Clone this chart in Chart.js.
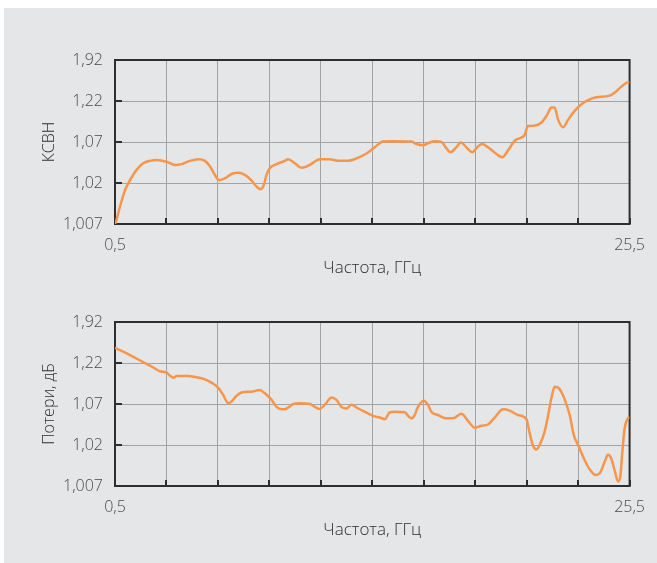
<!DOCTYPE html>
<html>
<head>
<meta charset="utf-8">
<script src="https://cdn.jsdelivr.net/npm/chart.js@4.4.1/dist/chart.umd.min.js"></script>
<style>
  html, body { margin: 0; padding: 0; background: #ffffff; }
  #panel { position: absolute; left: 4px; top: 8px; width: 653px; height: 555px; background: #e5e6e8; }
  .box { position: absolute; left: 0; width: 657px; height: 290px; }
  #box1 { top: 0; }
  #box2 { top: 262px; }
</style>
</head>
<body>
<div id="panel"></div>
<div class="box" id="box1"><canvas id="c1" width="657" height="290"></canvas></div>
<div class="box" id="box2"><canvas id="c2" width="657" height="290"></canvas></div>
<script>
// Vertical axis: five evenly spaced levels, each labelled with its value
const yTickLabels = ['1,007', '1,02', '1,07', '1,22', '1,92'];
// Horizontal axis: frequency, GHz
const xMin = 0.5;
const xMax = 25.5;
const xStep = 2.5;
const xTickLabels = ['0,5', '25,5'];
const xTitle = 'Частота, ГГц';

// VSWR (КСВН) curve, level on the axis above
const vswrFreq = [0.5, 0.55, 0.74, 0.99, 1.23, 1.55, 1.87, 2.2, 2.52, 3.0, 3.41, 3.74, 4.14, 4.54, 4.87,
  5.11, 5.35, 5.56, 5.84, 6.16, 6.49, 6.81, 7.14, 7.38, 7.57, 7.73, 7.86, 8.02, 8.35, 8.75, 8.91,
  9.24, 9.56, 9.97, 10.45, 10.94, 11.34, 11.83, 12.23, 12.72, 13.12, 13.52, 14.0, 14.9, 15.14,
  15.47, 15.71, 16.03, 16.36, 16.57, 16.8, 17.08, 17.3, 17.57, 17.86, 18.09, 18.33, 18.62, 18.95,
  19.32, 19.59, 19.92, 20.24, 20.4, 20.56, 20.89, 21.21, 21.49, 21.7, 21.86, 22.03, 22.27, 22.51,
  22.83, 23.16, 23.56, 23.88, 24.53, 24.77, 25.1, 25.37, 25.5];
const vswrLevel = [0.0, 0.06, 0.42, 0.83, 1.07, 1.32, 1.48, 1.54, 1.56, 1.52, 1.44, 1.46, 1.54, 1.58, 1.54,
  1.41, 1.20, 1.07, 1.11, 1.22, 1.25, 1.20, 1.06, 0.91, 0.85, 0.95, 1.20, 1.36, 1.46, 1.54, 1.58,
  1.48, 1.37, 1.44, 1.58, 1.58, 1.54, 1.54, 1.60, 1.72, 1.87, 2.01, 2.02, 2.01, 1.95,
  1.92, 1.97, 2.02, 2.0, 1.87, 1.75, 1.87, 1.99, 1.87, 1.75, 1.87, 1.95, 1.87, 1.74,
  1.63, 1.79, 2.03, 2.11, 2.17, 2.39, 2.40, 2.47, 2.66, 2.84, 2.84, 2.54, 2.36, 2.54,
  2.76, 2.92, 3.04, 3.09, 3.13, 3.20, 3.35, 3.45, 3.46];

// Insertion loss (Потери, дБ) curve
const lossFreq = [0.5, 0.9, 1.39, 1.87, 2.36, 2.68, 3.0, 3.17, 3.33, 3.49, 3.98, 4.47, 4.87, 5.19, 5.51,
  5.76, 6.0, 6.16, 6.41, 6.65, 7.14, 7.54, 7.78, 8.11, 8.35, 8.59, 8.75, 9.16, 9.48, 9.97, 10.21,
  10.45, 10.69, 11.02, 11.26, 11.5, 11.75, 11.99, 12.31, 12.72, 13.04, 13.36, 13.61, 13.85, 14.09,
  14.58, 14.74, 14.9, 15.06, 15.22, 15.5, 15.71, 15.87, 16.2, 16.6, 16.92, 17.33, 17.65, 17.98,
  18.3, 18.62, 18.95, 19.35, 19.67, 20.08, 20.49, 20.65, 20.81, 20.97, 21.13, 21.37, 21.53, 21.7,
  21.86, 22.07, 22.35, 22.59, 22.79, 23.0, 23.32, 23.56, 23.85, 24.05, 24.29, 24.45, 24.61, 24.77,
  24.94, 25.05, 25.15, 25.26, 25.42, 25.5];
const lossLevel = [3.37, 3.28, 3.15, 3.02, 2.89, 2.80, 2.77, 2.69, 2.64, 2.68, 2.68, 2.65, 2.60, 2.52, 2.40,
  2.22, 2.02, 2.06, 2.20, 2.28, 2.30, 2.34, 2.26, 2.10, 1.93, 1.87, 1.87, 2.0, 2.02, 2.0, 1.93,
  1.88, 1.98, 2.16, 2.10, 1.93, 1.89, 1.98, 1.89, 1.79, 1.71, 1.67, 1.63, 1.80, 1.81,
  1.80, 1.71, 1.65, 1.73, 1.93, 2.08, 1.98, 1.81, 1.73, 1.65, 1.65, 1.76, 1.59, 1.42,
  1.47, 1.50, 1.67, 1.87, 1.84, 1.73, 1.63, 1.28, 0.98, 0.89, 1.0, 1.32, 1.69, 2.14,
  2.42, 2.38, 2.11, 1.73, 1.24, 1.0, 0.63, 0.41, 0.27, 0.31, 0.59, 0.76, 0.67, 0.39,
  0.11, 0.23, 0.84, 1.41, 1.65, 1.68];

const FONT = '"Open Sans", "DejaVu Sans", sans-serif';
const LINE_COLOR = '#f7964a';
const GRID_COLOR = '#a2a3a5';
const FRAME_COLOR = '#2e2e2e';

// Dark frame round the plot plus short inward tick marks
const framePlugin = {
  id: 'frame',
  beforeDatasetsDraw(chart) {
    const { ctx, chartArea: a, scales: { x, y } } = chart;
    ctx.save();
    ctx.strokeStyle = FRAME_COLOR;
    ctx.lineWidth = 2;
    ctx.beginPath();
    x.ticks.forEach(t => {
      const px = Math.round(x.getPixelForValue(t.value));
      ctx.moveTo(px, a.bottom);
      ctx.lineTo(px, a.bottom - 6);
    });
    y.ticks.forEach(t => {
      const py = Math.round(y.getPixelForValue(t.value));
      ctx.moveTo(a.left, py);
      ctx.lineTo(a.left + 7, py);
    });
    ctx.stroke();
    ctx.strokeRect(a.left, a.top, a.right - a.left, a.bottom - a.top);
    ctx.restore();
  }
};

function makeChart(id, freq, level, yTitle) {
  const points = freq.map((f, i) => ({ x: f, y: level[i] }));
  return new Chart(document.getElementById(id), {
    type: 'line',
    data: {
      datasets: [{
        data: points,
        borderColor: LINE_COLOR,
        borderWidth: 2.5,
        pointRadius: 0,
        fill: false,
        cubicInterpolationMode: 'monotone'
      }]
    },
    options: {
      responsive: false,
      animation: false,
      events: [],
      layout: { padding: { left: 0, right: 27, top: 60, bottom: 0 } },
      plugins: { legend: { display: false }, tooltip: { enabled: false } },
      scales: {
        x: {
          type: 'linear',
          min: xMin,
          max: xMax,
          afterFit: s => { s.height = 66; },
          border: { display: false },
          grid: { color: GRID_COLOR, lineWidth: 1, drawTicks: false },
          ticks: {
            stepSize: xStep,
            autoSkip: false,
            maxRotation: 0,
            padding: 12,
            color: '#4a4a4a',
            font: { family: FONT, size: 16, weight: 300 },
            callback: (v, i, ticks) => i === 0 ? xTickLabels[0] : (i === ticks.length - 1 ? xTickLabels[1] : '')
          },
          title: {
            display: true,
            text: xTitle,
            color: '#2e2e2e',
            font: { family: FONT, size: 17, weight: 300 },
            padding: { top: 0, bottom: 12 }
          }
        },
        y: {
          type: 'linear',
          min: 0,
          max: yTickLabels.length - 1,
          afterFit: s => { s.width = 115; },
          border: { display: false },
          grid: { color: GRID_COLOR, lineWidth: 1, drawTicks: false },
          ticks: {
            stepSize: 1,
            padding: 12,
            color: '#4a4a4a',
            font: { family: FONT, size: 16, weight: 300 },
            callback: v => yTickLabels[v]
          },
          title: {
            display: true,
            text: yTitle,
            color: '#2e2e2e',
            font: { family: FONT, size: 16, weight: 300 },
            padding: { top: 40, bottom: 0 }
          }
        }
      }
    },
    plugins: [framePlugin]
  });
}

makeChart('c1', vswrFreq, vswrLevel, 'КСВН');
makeChart('c2', lossFreq, lossLevel, 'Потери, дБ');
</script>
</body>
</html>
